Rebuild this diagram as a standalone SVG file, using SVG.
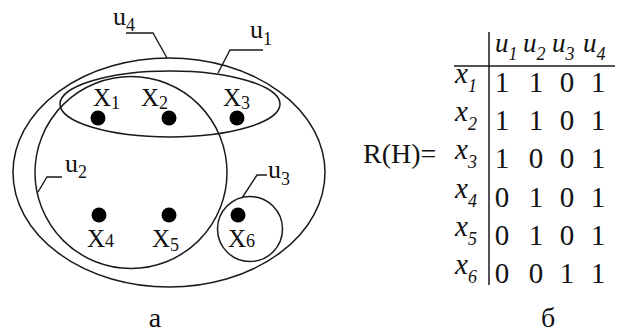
<svg xmlns="http://www.w3.org/2000/svg" width="618" height="332" viewBox="0 0 618 332" font-family="Liberation Serif, Times New Roman, serif">
<style>
.sh{fill:none;stroke:#1a1a1a;stroke-width:1.5}
.ld{fill:none;stroke:#1a1a1a;stroke-width:1.4}
.dot{fill:#000}
.lx{font-size:25px}
.lu{font-size:26px}
.sb{font-size:18px}
.it{font-style:italic}
.dg{font-size:29px;text-anchor:middle}
</style>
<rect width="618" height="332" fill="#fff"/>
<g fill="#111">
<g id="u4"><ellipse class="sh" cx="169" cy="172.5" rx="156" ry="114.5"/><text class="lu" x="113" y="25" fill="#111">u<tspan class="sb" dy="6">4</tspan></text></g>
<g id="u1"><ellipse class="sh" cx="170" cy="104" rx="110" ry="33"/><text class="lu" x="250" y="38" fill="#111">u<tspan class="sb" dy="7">1</tspan></text></g>
<g id="u2"><circle class="sh" cx="131" cy="172.5" r="96"/><text class="lu" x="65" y="172" fill="#111">u<tspan class="sb" dy="6">2</tspan></text></g>
<g id="u3"><circle class="sh" cx="250" cy="229" r="32.5"/><text class="lu" x="268" y="178" fill="#111">u<tspan class="sb" dy="7">3</tspan></text></g>
<g id="connectors">
<polyline class="ld" points="126,33 153,33 167,58"/>
<polyline class="ld" points="263,50 230,50 218,73"/>
<polyline class="ld" points="62,177 47,177 38,192"/>
<polyline class="ld" points="267,175 257,175 242,198"/>
</g>
<g id="x1"><circle class="dot" cx="98" cy="118" r="7.5"/><text class="lx" x="93" y="106">X<tspan class="sb" dy="3">1</tspan></text></g>
<g id="x2"><circle class="dot" cx="169" cy="118" r="7.5"/><text class="lx" x="141" y="106">X<tspan class="sb" dy="3">2</tspan></text></g>
<g id="x3"><circle class="dot" cx="237" cy="118" r="7.5"/><text class="lx" x="223" y="106">X<tspan class="sb" dy="3">3</tspan></text></g>
<g id="x4"><circle class="dot" cx="99" cy="215" r="7.5"/><text class="lx" x="87" y="247">X<tspan class="sb">4</tspan></text></g>
<g id="x5"><circle class="dot" cx="169" cy="215" r="7.5"/><text class="lx" x="152" y="247">X<tspan class="sb" dy="4">5</tspan></text></g>
<g id="x6"><circle class="dot" cx="238" cy="215" r="7.5"/><text class="lx" x="228" y="247">X<tspan class="sb">6</tspan></text></g>
<text x="155" y="327" font-size="28" text-anchor="middle">а</text>
<g id="matrix">
<line class="sh" x1="489" y1="32" x2="489" y2="285"/>
<line class="sh" x1="454" y1="66" x2="615" y2="66"/>
<text x="363" y="163" font-size="28">R(H)=</text>
<g class="it" font-size="27">
<text x="495" y="52">u<tspan font-size="18" dy="8">1</tspan></text>
<text x="523" y="52">u<tspan font-size="18" dy="8">2</tspan></text>
<text x="552" y="52">u<tspan font-size="18" dy="8">3</tspan></text>
<text x="583" y="52">u<tspan font-size="18" dy="8">4</tspan></text>
</g>
<g class="it" font-size="29">
<text x="455" y="83">x<tspan font-size="18" dy="9">1</tspan></text>
<text x="455" y="121">x<tspan font-size="18" dy="9">2</tspan></text>
<text x="455" y="159">x<tspan font-size="18" dy="9">3</tspan></text>
<text x="455" y="198">x<tspan font-size="18" dy="9">4</tspan></text>
<text x="455" y="236">x<tspan font-size="18" dy="9">5</tspan></text>
<text x="455" y="274">x<tspan font-size="18" dy="9">6</tspan></text>
</g>
<g class="dg">
<text x="502" y="92">1</text><text x="536" y="92">1</text><text x="567" y="92">0</text><text x="598" y="92">1</text>
<text x="502" y="130">1</text><text x="536" y="130">1</text><text x="567" y="130">0</text><text x="598" y="130">1</text>
<text x="502" y="168">1</text><text x="536" y="168">0</text><text x="567" y="168">0</text><text x="598" y="168">1</text>
<text x="502" y="207">0</text><text x="536" y="207">1</text><text x="567" y="207">0</text><text x="598" y="207">1</text>
<text x="502" y="245">0</text><text x="536" y="245">1</text><text x="567" y="245">0</text><text x="598" y="245">1</text>
<text x="502" y="283">0</text><text x="536" y="283">0</text><text x="567" y="283">1</text><text x="598" y="283">1</text>
</g>
<text x="548" y="327" font-size="28" text-anchor="middle">б</text>
</g>
</g>
</svg>
